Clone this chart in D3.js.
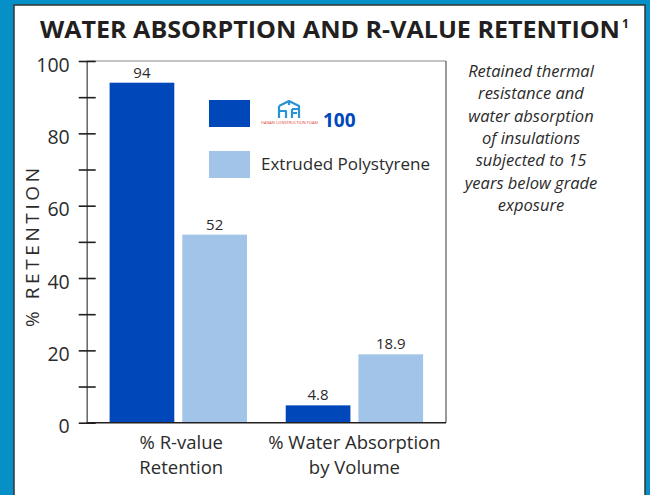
<!DOCTYPE html>
<html>
<head>
<meta charset="utf-8">
<script src="https://cdn.jsdelivr.net/npm/d3@7"></script>
<style>
  html, body { margin: 0; padding: 0; background: #0790c7; }
  svg { display: block; }
  text { font-family: "Open Sans", "DejaVu Sans", sans-serif; fill: #2b2b2b; }
</style>
</head>
<body>
<svg id="chart" width="650" height="495"></svg>
<script>
// ---- data ----
const categories = ["% R-value Retention", "% Water Absorption by Volume"];
const categoryLines = [["% R-value", "Retention"], ["% Water Absorption", "by Volume"]];
const seriesNames = ["HCF 100", "Extruded Polystyrene"];
const hcfValues = [94, 4.8];
const xpsValues = [52, 18.9];
const valueLabels = [["94", "52"], ["4.8", "18.9"]];
const yTicks = [0, 10, 20, 30, 40, 50, 60, 70, 80, 90, 100];
const yTickLabels = [0, 20, 40, 60, 80, 100];
const titleText = "WATER ABSORPTION AND R-VALUE RETENTION";
const noteLines = ["Retained thermal", "resistance and", "water absorption", "of insulations",
                   "subjected to 15", "years below grade", "exposure"];

const colors = ["#0048ba", "#a2c4e8"];

const svg = d3.select("#chart");
svg.append("rect").attr("width", 650).attr("height", 495).attr("fill", "#0790c7");
svg.append("rect").attr("x", 14).attr("y", 5).attr("width", 631).attr("height", 520)
  .attr("fill", "#fff").attr("stroke", "#333").attr("stroke-width", 1.5);

// title
svg.append("text").attr("x", 40).attr("y", 37.5).attr("font-size", 23.5).attr("font-weight", 700)
  .attr("textLength", 580).attr("lengthAdjust", "spacingAndGlyphs")
  .style("fill", "#231f20").text(titleText);
svg.append("text").attr("x", 622).attr("y", 28).attr("font-size", 12).attr("font-weight", 700)
  .style("fill", "#231f20").text("1");

// plot area
const pLeft = 86.7, pRight = 446, pTop = 61, pBottom = 422.7;
const y = d3.scaleLinear().domain([0, 100]).range([pBottom, pTop]);
const x0 = d3.scaleBand().domain(categories).range([pLeft, pRight]).paddingInner(0.22).paddingOuter(0.13);
const x1 = d3.scaleBand().domain(seriesNames).range([0, x0.bandwidth()]).paddingInner(0.11);

// frame
svg.append("line").attr("x1", pLeft).attr("x2", pRight).attr("y1", pTop).attr("y2", pTop)
  .attr("stroke", "#8a8a8a").attr("stroke-width", 1.2);
svg.append("line").attr("x1", pRight).attr("x2", pRight).attr("y1", pTop).attr("y2", pBottom)
  .attr("stroke", "#555").attr("stroke-width", 1.2);

const data = categories.map((c, i) => ({ cat: c, vals: [hcfValues[i], xpsValues[i]], labels: valueLabels[i] }));

const groups = svg.selectAll("g.grp").data(data).enter().append("g")
  .attr("transform", d => `translate(${x0(d.cat)},0)`);
groups.selectAll("rect").data(d => d.vals.map((v, j) => ({ v, s: seriesNames[j], j }))).enter()
  .append("rect")
  .attr("x", d => x1(d.s)).attr("width", x1.bandwidth())
  .attr("y", d => y(d.v)).attr("height", d => y(0) - y(d.v))
  .attr("fill", d => colors[d.j]);
groups.selectAll("text.val").data(d => d.vals.map((v, j) => ({ v, s: seriesNames[j], lab: d.labels[j] }))).enter()
  .append("text").attr("class", "val")
  .attr("x", d => x1(d.s) + x1.bandwidth() / 2).attr("y", d => y(d.v) - 5)
  .attr("text-anchor", "middle").attr("font-size", 15).text(d => d.lab);

// y axis
const yAxis = d3.axisLeft(y).tickValues(yTicks).tickSize(0).tickFormat(() => "");
const ya = svg.append("g").attr("transform", `translate(${pLeft},0)`).call(yAxis);
ya.select(".domain").attr("stroke", "#6d6d6d").attr("stroke-width", 1.6);
ya.selectAll(".tick line").remove();
ya.selectAll(".tick").append("line").attr("x1", -8).attr("x2", 9)
  .attr("stroke", "#231f20").attr("stroke-width", 1.6);
ya.selectAll(".tick text").remove();
ya.selectAll(".tick").filter(d => yTickLabels.includes(d)).append("text")
  .attr("x", -17).attr("y", 3).attr("dy", "0.36em").attr("text-anchor", "end")
  .attr("font-size", 19.5).style("fill", "#2b2b2b").text(d => d);

// bottom line
svg.append("line").attr("x1", pLeft).attr("x2", pRight).attr("y1", pBottom).attr("y2", pBottom)
  .attr("stroke", "#231f20").attr("stroke-width", 1.6);

// y title
svg.append("text").attr("transform", `translate(39,327) rotate(-90)`)
  .attr("font-size", 19).attr("textLength", 159).attr("lengthAdjust", "spacing")
  .text("% RETENTION");

// category labels
categories.forEach((c, i) => {
  const cx = x0(c) + x0.bandwidth() / 2 + (i === 0 ? 3 : 0);
  categoryLines[i].forEach((ln, k) => {
    svg.append("text").attr("x", cx).attr("y", 449 + k * 25).attr("text-anchor", "middle")
      .attr("font-size", 18.5).text(ln);
  });
});

// legend
const lg = svg.append("g");
lg.append("rect").attr("x", 209).attr("y", 100).attr("width", 41).attr("height", 27).attr("fill", colors[0]);
lg.append("rect").attr("x", 209).attr("y", 151).attr("width", 41).attr("height", 27).attr("fill", colors[1]);
lg.append("text").attr("x", 261).attr("y", 170).attr("font-size", 17).text(seriesNames[1]);
// logo (approximate)
const logo = lg.append("g").attr("transform", "translate(277,100)");
logo.append("path").attr("d", "M2,6 L12,1 L22,6 L22,9 M2,6 L2,18 M2,11 L9,11 L9,18 M12,1 L12,5 M15,9 L22,9 L22,18 M15,9 L15,18 M15,13 L20,13")
  .attr("fill", "none").attr("stroke", "#2a93d6").attr("stroke-width", 2.2).attr("stroke-linejoin", "round");
lg.append("text").attr("x", 261).attr("y", 124).attr("font-size", 3.6).attr("textLength", 57)
  .attr("lengthAdjust", "spacingAndGlyphs").style("fill", "#e0443a").text("HANAN CONSTRUCTION FOAM");
lg.append("text").attr("x", 323).attr("y", 126.5).attr("font-size", 19).attr("font-weight", 700)
  .style("fill", "#0048ba").text("100");

// note
noteLines.forEach((ln, i) => {
  svg.append("text").attr("x", 531).attr("y", 77 + i * 22.3).attr("text-anchor", "middle")
    .attr("font-size", 16.5).attr("font-style", "italic").style("fill", "#2b2b2b").text(ln);
});
</script>
</body>
</html>
